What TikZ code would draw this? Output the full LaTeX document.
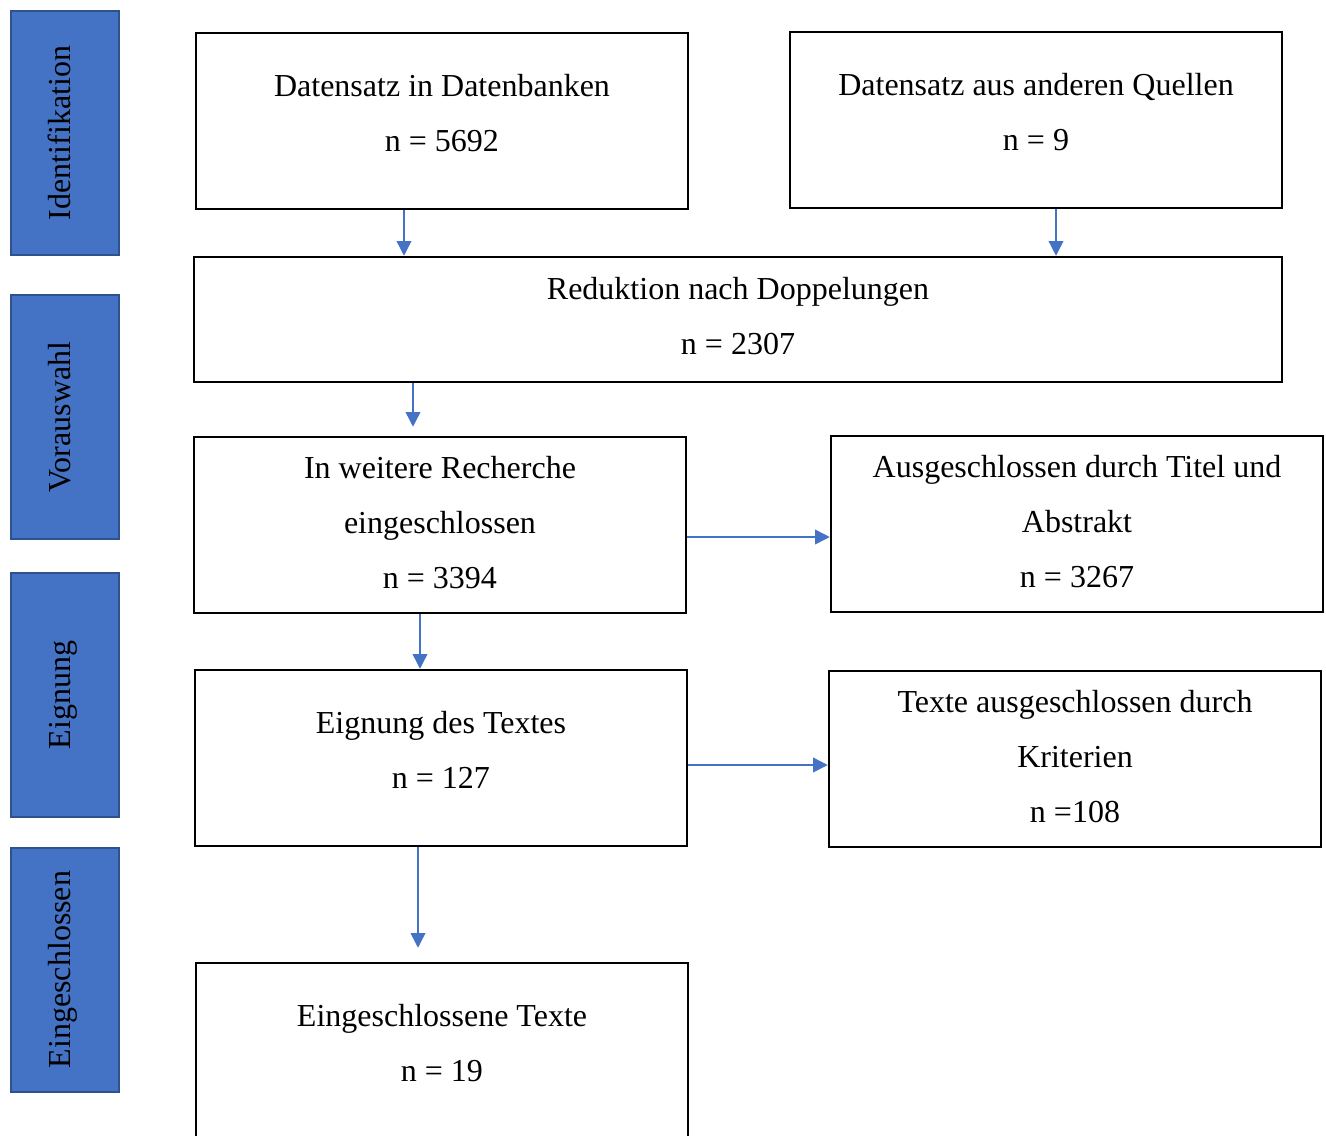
\documentclass[tikz,border=0pt]{standalone}
\usepackage{fontspec}
\setmainfont{Liberation Serif}
\usetikzlibrary{arrows.meta}
\definecolor{sideblue}{HTML}{4472C4}
\definecolor{sideedge}{HTML}{2F528F}
\definecolor{arrowblue}{HTML}{4472C4}
\tikzset{
  mainbox/.style={draw=black, line width=1.9pt, minimum width=369pt, minimum height=132pt, inner sep=0pt},
  sidebox/.style={draw=sideedge, fill=sideblue, line width=1.5pt, minimum width=81pt, minimum height=183pt, inner sep=0pt},
  sidelabel/.style={rotate=90, anchor=base, inner sep=0pt, font=\fontsize{24}{30}\selectfont},
  boxtext/.style={align=center, inner sep=0pt, font=\fontsize{24}{41.25}\selectfont},
  arr/.style={draw=arrowblue, line width=1.1pt, -{Triangle[length=11pt,width=11pt]}}
}
\newcommand{\ls}{\strut}
\begin{document}
\begin{tikzpicture}[x=0.75pt,y=-0.75pt]
\useasboundingbox (0,0) rectangle (1326,1135);
\clip (0,0) rectangle (1326,1135);
% side boxes
\node[sidebox] (s1) at (65,133) {};
\node[sidebox] (s2) at (65,417) {};
\node[sidebox] (s3) at (65,695) {};
\node[sidebox] (s4) at (65,969.5) {};
\node[sidelabel] (l1) at (70,133) {Identifikation};
\node[sidelabel] (l2) at (70,417) {Vorauswahl};
\node[sidelabel] (l3) at (70,695) {Eignung};
\node[sidelabel] (l4) at (70,969.5) {Eingeschlossen};
% main boxes
\node[mainbox] (b1) at (442,121) {};
\node[mainbox] (b2) at (1036,120) {};
\node[mainbox, minimum width=816pt, minimum height=93.75pt] (b3) at (738,319.5) {};
\node[mainbox] (b4) at (440,525) {};
\node[mainbox] (b5) at (1077,524) {};
\node[mainbox] (b6) at (441,758) {};
\node[mainbox] (b7) at (1075,759) {};
\node[mainbox] (b8) at (442,1051) {};
% texts
\node[boxtext] (t1) at (442,112.5) {Datensatz in Datenbanken\ls\\ n = 5692\ls};
\node[boxtext] (t2) at (1036,111.5) {Datensatz aus anderen Quellen\ls\\ n = 9\ls};
\node[boxtext] (t3) at (738,315.5) {Reduktion nach Doppelungen\ls\\ n = 2307\ls};
\node[boxtext] (t4) at (440,522.5) {In weitere Recherche\ls\\ eingeschlossen\ls\\ n = 3394\ls};
\node[boxtext] (t5) at (1077,521.5) {Ausgeschlossen durch Titel und\ls\\ Abstrakt\ls\\ n = 3267\ls};
\node[boxtext] (t6) at (441,749.5) {Eignung des Textes\ls\\ n = 127\ls};
\node[boxtext] (t7) at (1075,756.5) {Texte ausgeschlossen durch\ls\\ Kriterien\ls\\ n =108\ls};
\node[boxtext] (t8) at (442,1043) {Eingeschlossene Texte\ls\\ n = 19\ls};
% arrows
\draw[arr] (404,0 |- b1.south) -- (404,0 |- b3.north);
\draw[arr] (1056,0 |- b2.south) -- (1056,0 |- b3.north);
\draw[arr, shorten >=6.75pt] (413,0 |- b3.south) -- (413,0 |- b4.north);
\draw[arr] (420,0 |- b4.south) -- (420,0 |- b6.north);
\draw[arr, shorten >=10.5pt] (418,0 |- b6.south) -- (418,0 |- b8.north);
\draw[arr] (b4.east |- 0,537) -- (b5.west |- 0,537);
\draw[arr] (b6.east |- 0,765) -- (b7.west |- 0,765);
\end{tikzpicture}
\end{document}
